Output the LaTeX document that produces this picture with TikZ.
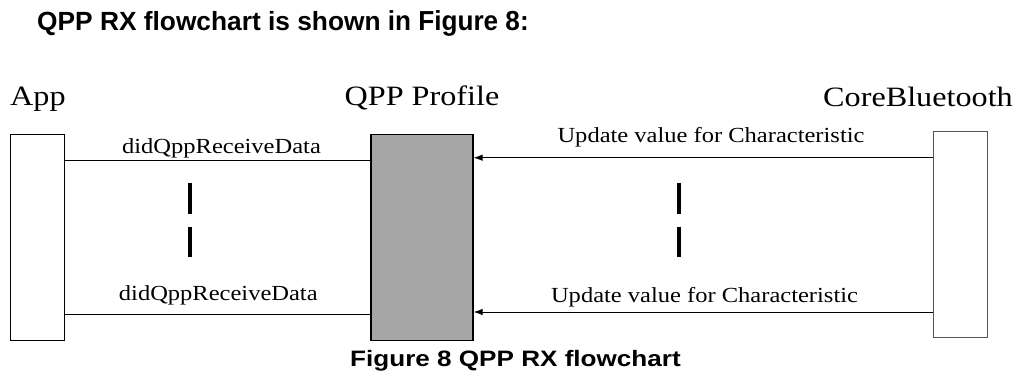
\documentclass[tikz,border=0pt]{standalone}
\usepackage{fontspec}
\usetikzlibrary{arrows.meta}
\newfontfamily\hdfont[FakeStretch=1.15]{Liberation Serif}
\newfontfamily\lbfont[FakeStretch=1.14]{Liberation Serif}
\newfontfamily\ttlfont{Liberation Sans}
\newfontfamily\ttlbig[FakeStretch=0.95]{Liberation Sans}
\newfontfamily\capfont[FakeStretch=1.17]{Liberation Sans}
\definecolor{boxgray}{HTML}{A6A6A6}
\definecolor{edgegray}{HTML}{555555}
\tikzset{
  lifebox/.style={draw=black, line width=1.2pt, minimum width=54pt, minimum height=206pt, inner sep=0pt},
  msg/.style={line width=1pt},
  msgarrow/.style={line width=1pt, -{Latex[length=9pt,width=6.5pt]}},
  hdr/.style={inner sep=0pt, font=\hdfont\fontsize{28}{30}\selectfont},
  lbl/.style={inner sep=0pt, font=\lbfont\fontsize{21.5}{24}\selectfont},
  bar/.style={line width=4pt, black},
}
\begin{document}
\begin{tikzpicture}[x=1pt,y=-1pt]
\useasboundingbox (0,0) rectangle (1023,373);
% title
\node[anchor=base west, inner sep=0pt] (title) at (37,30.5)
  {\ttlfont\bfseries\fontsize{26.3}{28}\selectfont QPP RX flowchart is shown \ttlbig\fontsize{27.5}{29}\selectfont in Figure 8:};
% headers
\node[hdr, anchor=base west] (happ) at (10,105) {App};
\node[hdr, anchor=base] (hqpp) at (422,105) {QPP Profile};
\node[hdr, anchor=base east] (hcb) at (1013,106) {CoreBluetooth};
% lifeline boxes
\node[lifebox] (app) at (37.3,237.2) {};
\node[lifebox, fill=boxgray, minimum width=102pt] (qpp) at (422,237.2) {};
\node[lifebox, draw=edgegray, minimum width=54.4pt, minimum height=205.6pt] (cb) at (960.5,234.5) {};
% message rows
\coordinate (r1a) at (0,160);
\coordinate (r1b) at (0,157.7);
\coordinate (r2a) at (0,314.3);
\coordinate (r2b) at (0,312);
\draw[msg] (app.east |- r1a) -- (qpp.west |- r1a);
\draw[msgarrow] (cb.west |- r1b) -- (qpp.east |- r1b);
\draw[msg] (app.east |- r2a) -- (qpp.west |- r2a);
\draw[msgarrow] (cb.west |- r2b) -- (qpp.east |- r2b);
% labels
\node[lbl, anchor=base] (l1) at (221.5,153) {didQppReceiveData};
\node[lbl, anchor=base] (l2) at (711,142) {Update value for Characteristic};
\node[lbl, anchor=base] (l3) at (218.3,300) {didQppReceiveData};
\node[lbl, anchor=base] (l4) at (704.5,302) {Update value for Characteristic};
% continuation bars
\draw[bar] (190.3,183.3) -- (190.3,214);
\draw[bar] (190.3,226.7) -- (190.3,257.3);
\draw[bar] (679,183.3) -- (679,214);
\draw[bar] (679,226.7) -- (679,257.3);
% caption
\node[anchor=base west, inner sep=0pt] (cap) at (350,366.7)
  {\capfont\bfseries\fontsize{22.3}{24}\selectfont Figure 8 QPP RX flowchart};
\end{tikzpicture}
\end{document}
